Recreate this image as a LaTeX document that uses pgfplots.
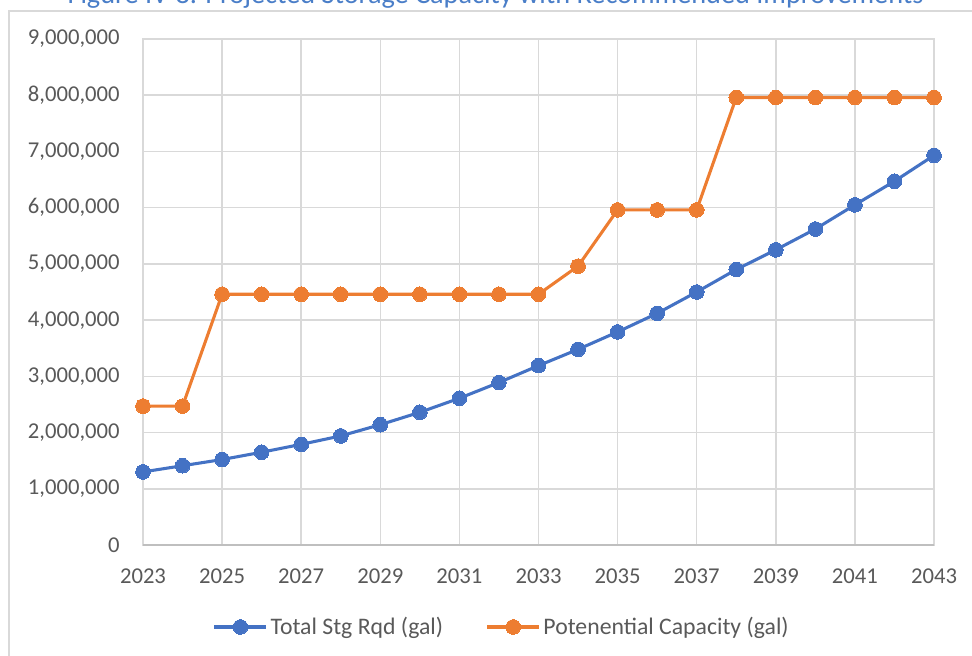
\documentclass[border=0pt]{standalone}
\usepackage{pgfplots}
\pgfplotsset{compat=1.18}
\usepackage{fontspec}
\setmainfont{Carlito}

\definecolor{seriesblue}{HTML}{4472C4}
\definecolor{seriesorange}{HTML}{ED7D31}
\definecolor{gridgray}{HTML}{D9D9D9}
\definecolor{axisgray}{HTML}{BFBFBF}
\definecolor{labelgray}{HTML}{595959}
\definecolor{titleblue}{HTML}{4A7EC8}

% Storage required vs. potential capacity, gallons
\pgfplotstableread{
year  required  capacity
2023  1300000   2470000
2024  1410000   2470000
2025  1520000   4460000
2026  1650000   4460000
2027  1790000   4460000
2028  1940000   4460000
2029  2140000   4460000
2030  2360000   4460000
2031  2610000   4460000
2032  2890000   4460000
2033  3190000   4460000
2034  3480000   4960000
2035  3790000   5960000
2036  4120000   5960000
2037  4500000   5960000
2038  4900000   7960000
2039  5250000   7960000
2040  5620000   7960000
2041  6050000   7960000
2042  6470000   7960000
2043  6930000   7960000
}\storagedata

\begin{document}
\begin{tikzpicture}
\path[use as bounding box] (0pt,0pt) rectangle (729pt,492pt);
\begin{scope}
\clip (0pt,0pt) rectangle (729pt,492pt);
% chart frame
\draw[gridgray, line width=1.5pt] (6.75pt,-5pt) -- (6.75pt,483.75pt) -- (740pt,483.75pt);
% title
\node[anchor=base, text=titleblue, font=\fontsize{21.2}{25}\selectfont, inner sep=0pt]
  at (371.6pt,489pt) {Figure IV-8. Projected Storage Capacity with Recommended Improvements};
\end{scope}

\begin{axis}[
  at={(107.25pt,83.25pt)}, anchor=south west,
  scale only axis, width=593.25pt, height=379.5pt,
  xmin=2023, xmax=2043, ymin=0, ymax=9000000,
  xtick={2023,2025,...,2043},
  ytick={0,1000000,...,9000000},
  scaled y ticks=false,
  xticklabel style={/pgf/number format/1000 sep=, yshift=-14pt},
  yticklabel style={/pgf/number format/fixed, /pgf/number format/1000 sep={,}, xshift=-14pt},
  /pgf/number format/assume math mode=true,
  tick label style={font=\fontsize{17}{19}\selectfont, text=labelgray},
  major tick length=0pt,
  grid=major,
  major grid style={gridgray, line width=1.1pt},
  axis line style={gridgray, line width=1.1pt},
  clip=false,
  legend columns=2,
  legend style={draw=none, fill=none, at={(0.454,-0.162)}, anchor=center,
    font=\fontsize{17.8}{20}\selectfont, text=labelgray,
    /tikz/every even column/.append style={column sep=30pt}},
  legend image code/.code={%
    \draw[#1, mark repeat=2, mark phase=2]
      plot coordinates {(0pt,0pt) (19.5pt,0pt) (39pt,0pt)};},
]
\addplot[seriesblue, line width=2.3pt, mark=*, mark size=5.5pt,
  mark options={fill=seriesblue, draw=seriesblue, line width=0pt}]
  table[x=year, y=required] {\storagedata};
\addlegendentry{Total Stg Rqd (gal)}
\addplot[seriesorange, line width=2.3pt, mark=*, mark size=5.5pt,
  mark options={fill=seriesorange, draw=seriesorange, line width=0pt}]
  table[x=year, y=capacity] {\storagedata};
\addlegendentry{Potenential Capacity (gal)}
\draw[axisgray, line width=1.3pt] (rel axis cs:0,0) -- (rel axis cs:1,0);
\end{axis}
\end{tikzpicture}
\end{document}
